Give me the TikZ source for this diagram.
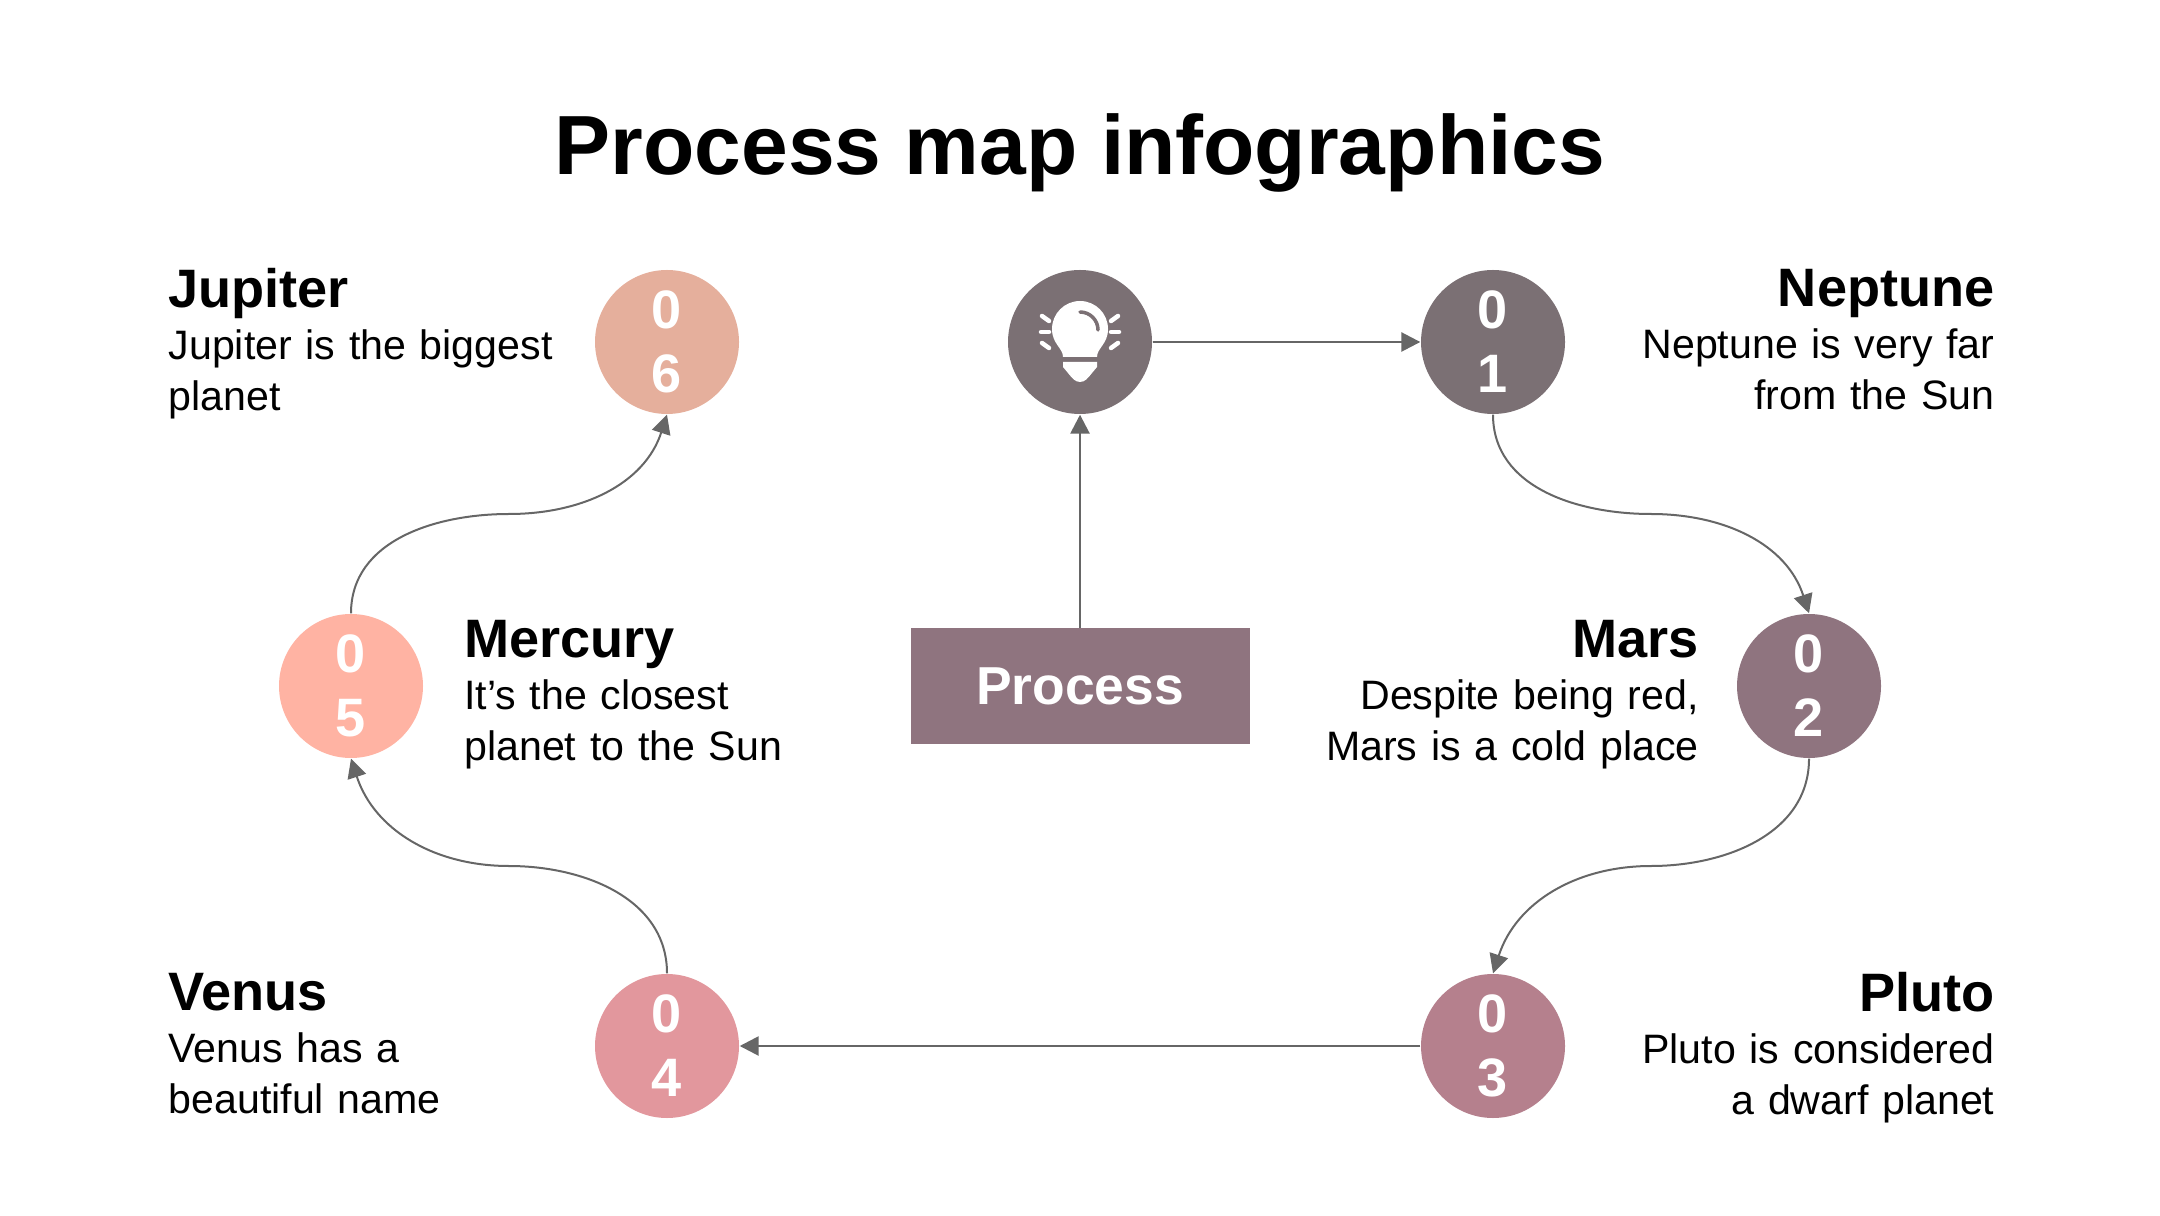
\documentclass[tikz,border=0pt]{standalone}
\usepackage{fontspec}
\setmainfont{Liberation Sans}
\usetikzlibrary{arrows.meta}
\usetikzlibrary{positioning}
\usetikzlibrary{calc}
\definecolor{linegray}{HTML}{666666}
\definecolor{ideacol}{HTML}{7B7074}
\definecolor{marscol}{HTML}{8F747F}
\definecolor{plutocol}{HTML}{B5808D}
\definecolor{venuscol}{HTML}{E2979D}
\definecolor{mercurycol}{HTML}{FFB3A3}
\definecolor{jupitercol}{HTML}{E5AF9C}
\newcommand{\planethead}[1]{{\fontsize{15.4}{14.5}\selectfont\bfseries\strut #1}}

\begin{document}
\begin{tikzpicture}
\tikzset{stepcircle/.style={on grid,circle,minimum size=1.44cm,inner sep=0pt,text=white,align=center,font=\fontsize{15.4}{18.2}\selectfont\bfseries}}
\tikzset{infotext/.style={text width=4.2cm,inner sep=0pt,yshift=-.05cm,font=\fontsize{11.7}{14.5}\selectfont,execute at end node=\strut}}
\tikzset{flow/.style={draw=linegray,line width=.02cm,-{Triangle[length=.19cm,width=.19cm]}}}
\useasboundingbox (0,0) rectangle (21.6,12.15);
\node[font=\fontsize{23.9}{30}\selectfont\bfseries](title) at (10.8,10.62){Process map infographics};
\node[stepcircle,fill=ideacol](idea) at (10.8,8.73){};
\node[stepcircle,fill=ideacol,right=4.13cm of idea](n1){0\\1};
\node[stepcircle,fill=marscol,below right=3.44cm and 3.16cm of n1](n2){0\\2};
\node[stepcircle,fill=plutocol,below left=3.6cm and 3.16cm of n2](n3){0\\3};
\node[stepcircle,fill=venuscol,left=8.26cm of n3](n4){0\\4};
\node[stepcircle,fill=mercurycol,above left=3.6cm and 3.16cm of n4](n5){0\\5};
\node[stepcircle,fill=jupitercol,above right=3.44cm and 3.16cm of n5](n6){0\\6};
\node[on grid,fill=marscol,minimum width=3.39cm,minimum height=1.15cm,text=white,below=3.44cm of idea,font=\fontsize{15.2}{18}\selectfont\bfseries](process){Process};
\node[infotext,align=right,right=.08cm of n1](neptune){\planethead{Neptune}\\[.4pt]Neptune is very far\\from the Sun};
\node[infotext,align=right,left=.37cm of n2,yshift=-.07cm](mars){\planethead{Mars}\\[.4pt]Despite being red,\\Mars is a cold place};
\node[infotext,align=right,right=.08cm of n3](pluto){\planethead{Pluto}\\[.4pt]Pluto is considered\\a dwarf planet};
\node[infotext,align=left,left=.05cm of n4](venus){\planethead{Venus}\\[.4pt]Venus has a\\beautiful name};
\node[infotext,align=left,right=.4cm of n5,yshift=-.07cm](mercury){\planethead{Mercury}\\[.4pt]It’s the closest\\planet to the Sun};
\node[infotext,align=left,left=.05cm of n6](jupiter){\planethead{Jupiter}\\[.4pt]Jupiter is the biggest\\planet};
\draw[flow,line width=.027cm](process) -- (idea);
\draw[flow,line width=.027cm](idea) -- (n1);
\draw[flow,line width=.027cm](n3) -- (n4);
\coordinate (m12) at ($(n1.south)!.5!(n2.north)$);
\coordinate (m23) at ($(n2.south)!.5!(n3.north)$);
\coordinate (m45) at ($(n4.north)!.5!(n5.south)$);
\coordinate (m56) at ($(n5.north)!.5!(n6.south)$);
\draw[flow](n1.south) to[out=-90,in=180] (m12) to[out=0,in=108] (n2.north);
\draw[flow](n2.south) to[out=-90,in=0] (m23) to[out=180,in=72] (n3.north);
\draw[flow](n4.north) to[out=90,in=0] (m45) to[out=180,in=-72] (n5.south);
\draw[flow](n5.north) to[out=90,in=180] (m56) to[out=0,in=-108] (n6.south);
\begin{scope}[shift={(idea.center)}]
\fill[white] (-.17,-.15) .. controls (-.17,-.06) and (-.28,-.02) .. (-.28,.13) arc[start angle=180,end angle=0,radius=.28] .. controls (.28,-.02) and (.17,-.06) .. (.17,-.15) -- cycle;
\fill[white] (-.17,-.2) -- (.17,-.2) -- (.17,-.25) -- (.12,-.31) .. controls (.08,-.36) and (.05,-.4) .. (0,-.4) .. controls (-.05,-.4) and (-.08,-.36) .. (-.12,-.31) -- (-.17,-.25) -- cycle;
\draw[ideacol,line width=.035cm,line cap=round] (0,.3) arc[start angle=90,end angle=0,radius=.18];
\foreach \s in {1,-1}{
\draw[white,line width=.045cm,line cap=round] (\s*.31,.21) -- (\s*.38,.26);
\draw[white,line width=.045cm,line cap=round] (\s*.31,.1) -- (\s*.39,.1);
\draw[white,line width=.045cm,line cap=round] (\s*.31,-.06) -- (\s*.38,-.01);
}
\end{scope}
\end{tikzpicture}
\end{document}
